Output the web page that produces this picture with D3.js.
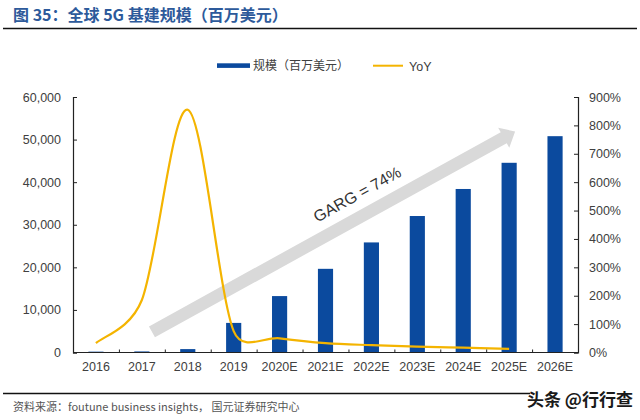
<!DOCTYPE html>
<html>
<head>
<meta charset="utf-8">
<script src="https://cdn.jsdelivr.net/npm/d3@7"></script>
<style>
  html, body { margin: 0; padding: 0; background: #fff; }
  svg { display: block; }
</style>
</head>
<body>
<svg id="chart" width="640" height="420"></svg>
<script>
// ---- data ----
const categories = ["2016","2017","2018","2019","2020E","2021E","2022E","2023E","2024E","2025E","2026E"];
const marketSize = [200, 250, 800, 6950, 13250, 19650, 25850, 32050, 38400, 44550, 50800]; // 百万美元
const yoyPct = [33, 185, 855, 75, 50, 33, 26, 21, 17, 13, null]; // %
const leftTicks = [0, 10000, 20000, 30000, 40000, 50000, 60000];
const rightTicks = [0, 100, 200, 300, 400, 500, 600, 700, 800, 900];
const titleText = "图 35：全球 5G 基建规模（百万美元）";
const sourceText = "资料来源：foutune business insights， 国元证券研究中心";
const barLegend = "规模（百万美元）";
const lineLegend = "YoY";
const cagrLabel = "GARG = 74%";
// annotation arrow anchored in data space: [category-step position, left-axis value]
const arrowFrom = [1.72, 4850];
const arrowTo = [9.63, 51900];
const labelAt = [6.25, 36000];

// ---- layout ----
const svg = d3.select("#chart");
const plotL = 73, plotR = 578, plotT = 97, plotB = 352.5;
const axisFont = "'Liberation Sans', Arial, sans-serif";
const cjkFont = "'Noto Sans CJK SC', 'Noto Sans', sans-serif";
const barColor = "#0B4A9E";
const lineColor = "#F4B400";
const textColor = "#404040";

const x = d3.scaleBand().domain(categories).range([plotL, plotR]).padding(0);
const xPos = d3.scaleLinear().domain([0, categories.length]).range([plotL, plotR]);
const yL = d3.scaleLinear().domain([0, 60000]).range([plotB, plotT]);
const yR = d3.scaleLinear().domain([0, 900]).range([plotB, plotT]);
const barW = x.bandwidth() * 0.33;

// title
svg.append("text").attr("x", 13).attr("y", 21)
  .attr("font-family", cjkFont).attr("font-weight", "bold").attr("font-size", 16)
  .attr("fill", "#2D5A9B").text(titleText);
svg.append("line").attr("x1", 3).attr("x2", 637).attr("y1", 28.5).attr("y2", 28.5)
  .attr("stroke", "#111").attr("stroke-width", 1.6);

// legend
svg.append("rect").attr("x", 217).attr("y", 63.3).attr("width", 33).attr("height", 4.6).attr("fill", barColor);
svg.append("text").attr("x", 253).attr("y", 70).attr("font-family", cjkFont).attr("font-size", 12)
  .attr("fill", textColor).text(barLegend);
svg.append("line").attr("x1", 373).attr("x2", 403).attr("y1", 65.7).attr("y2", 65.7)
  .attr("stroke", lineColor).attr("stroke-width", 2);
svg.append("text").attr("x", 409).attr("y", 70.5).attr("font-family", axisFont).attr("font-size", 12.5)
  .attr("fill", textColor).text(lineLegend);

// growth arrow (behind marks)
(function drawArrow() {
  const p0 = [xPos(arrowFrom[0]), yL(arrowFrom[1])];
  const p1 = [xPos(arrowTo[0]), yL(arrowTo[1])];
  const dx = p1[0] - p0[0], dy = p1[1] - p0[1];
  const len = Math.hypot(dx, dy);
  const u = [dx / len, dy / len], n = [-u[1], u[0]];
  const hw = 6.2, headW = 11.5, headL = 13;
  const base = [p1[0] - u[0] * headL, p1[1] - u[1] * headL];
  const pt = (p, a, b) => [p[0] + n[0] * a + u[0] * b, p[1] + n[1] * a + u[1] * b];
  const pts = [pt(p0, hw, 0), pt(base, hw, 0), pt(base, headW, 0), p1,
               pt(base, -headW, 0), pt(base, -hw, 0), pt(p0, -hw, 0)];
  svg.append("path").attr("d", d3.line()(pts) + "Z").attr("fill", "#D9D9D9");
  const ang = Math.atan2(dy, dx) * 180 / Math.PI;
  const lx = xPos(labelAt[0]), ly = yL(labelAt[1]);
  svg.append("text").attr("transform", `translate(${lx},${ly}) rotate(${ang})`)
    .attr("text-anchor", "middle").attr("font-family", axisFont).attr("font-size", 16)
    .attr("fill", "#333").text(cagrLabel);
})();

// bars
svg.append("g").selectAll("rect").data(categories).join("rect")
  .attr("x", (d) => x(d) + x.bandwidth() / 2 - barW / 2)
  .attr("width", barW)
  .attr("y", (d, i) => yL(marketSize[i]))
  .attr("height", (d, i) => plotB - yL(marketSize[i]))
  .attr("fill", barColor);

// YoY line: spreadsheet-style smoothed line (Catmull-Rom arms of 1/6,
// limited to half of the segment length)
function smoothPath(P) {
  const m = P.length;
  const sub = (a, b) => [a[0] - b[0], a[1] - b[1]];
  const len = (v) => Math.hypot(v[0], v[1]);
  const path = d3.path();
  path.moveTo(P[0][0], P[0][1]);
  for (let i = 0; i < m - 1; i++) {
    const p0 = P[Math.max(i - 1, 0)], p1 = P[i], p2 = P[i + 1], p3 = P[Math.min(i + 2, m - 1)];
    const d12 = len(sub(p2, p1));
    const t1 = sub(p2, p0), d02 = len(t1);
    const f1 = (d02 / 6 < d12 / 2) ? 1 / 6 : d12 / (2 * d02);
    const t2 = sub(p3, p1), d13 = len(t2);
    const f2 = (d13 / 6 < d12 / 2) ? 1 / 6 : d12 / (2 * d13);
    path.bezierCurveTo(p1[0] + f1 * t1[0], p1[1] + f1 * t1[1],
                       p2[0] - f2 * t2[0], p2[1] - f2 * t2[1], p2[0], p2[1]);
  }
  return path.toString();
}
const linePts = categories.map((c, i) => [x(c) + x.bandwidth() / 2, yoyPct[i]])
  .filter(d => d[1] != null).map(d => [d[0], yR(d[1])]);
svg.append("path").attr("d", smoothPath(linePts))
  .attr("fill", "none").attr("stroke", lineColor).attr("stroke-width", 2.2);

// axes
const axisColor = "#222";
const gL = svg.append("g").attr("transform", `translate(${plotL},0)`)
  .call(d3.axisLeft(yL).tickValues(leftTicks).tickSize(-4).tickPadding(12).tickFormat(d3.format(",")));
const gR = svg.append("g").attr("transform", `translate(${plotR},0)`)
  .call(d3.axisRight(yR).tickValues(rightTicks).tickSize(-4).tickPadding(11).tickFormat(d => d + "%"));
const gX = svg.append("g").attr("transform", `translate(0,${plotB})`)
  .call(d3.axisBottom(xPos).tickValues(d3.range(1, categories.length)).tickSize(-3).tickFormat(""));
const gXL = svg.append("g").attr("transform", `translate(0,${plotB})`)
  .call(d3.axisBottom(x).tickSize(0).tickPadding(10));
gXL.select(".domain").remove();
[gL, gR, gX].forEach(g => {
  g.select(".domain").attr("stroke", axisColor).attr("stroke-width", 1.2);
  g.selectAll(".tick line").attr("stroke", axisColor);
});
gX.select(".domain").attr("d", `M${plotL},0H${plotR}`);
[gL, gR, gXL].forEach(g => g.selectAll("text")
  .attr("font-family", axisFont).attr("font-size", 12.5).attr("fill", textColor));

// footer
svg.append("line").attr("x1", 3).attr("x2", 530).attr("y1", 393.5).attr("y2", 393.5)
  .attr("stroke", "#111").attr("stroke-width", 1.6);
svg.append("text").attr("x", 13).attr("y", 411).attr("font-family", cjkFont).attr("font-size", 11)
  .attr("fill", "#555").text(sourceText);
svg.append("text").attr("x", 527).attr("y", 406).attr("font-family", cjkFont).attr("font-size", 17)
  .attr("font-weight", "bold").attr("fill", "#1a1a1a").text("头条 @行行查");
</script>
</body>
</html>
